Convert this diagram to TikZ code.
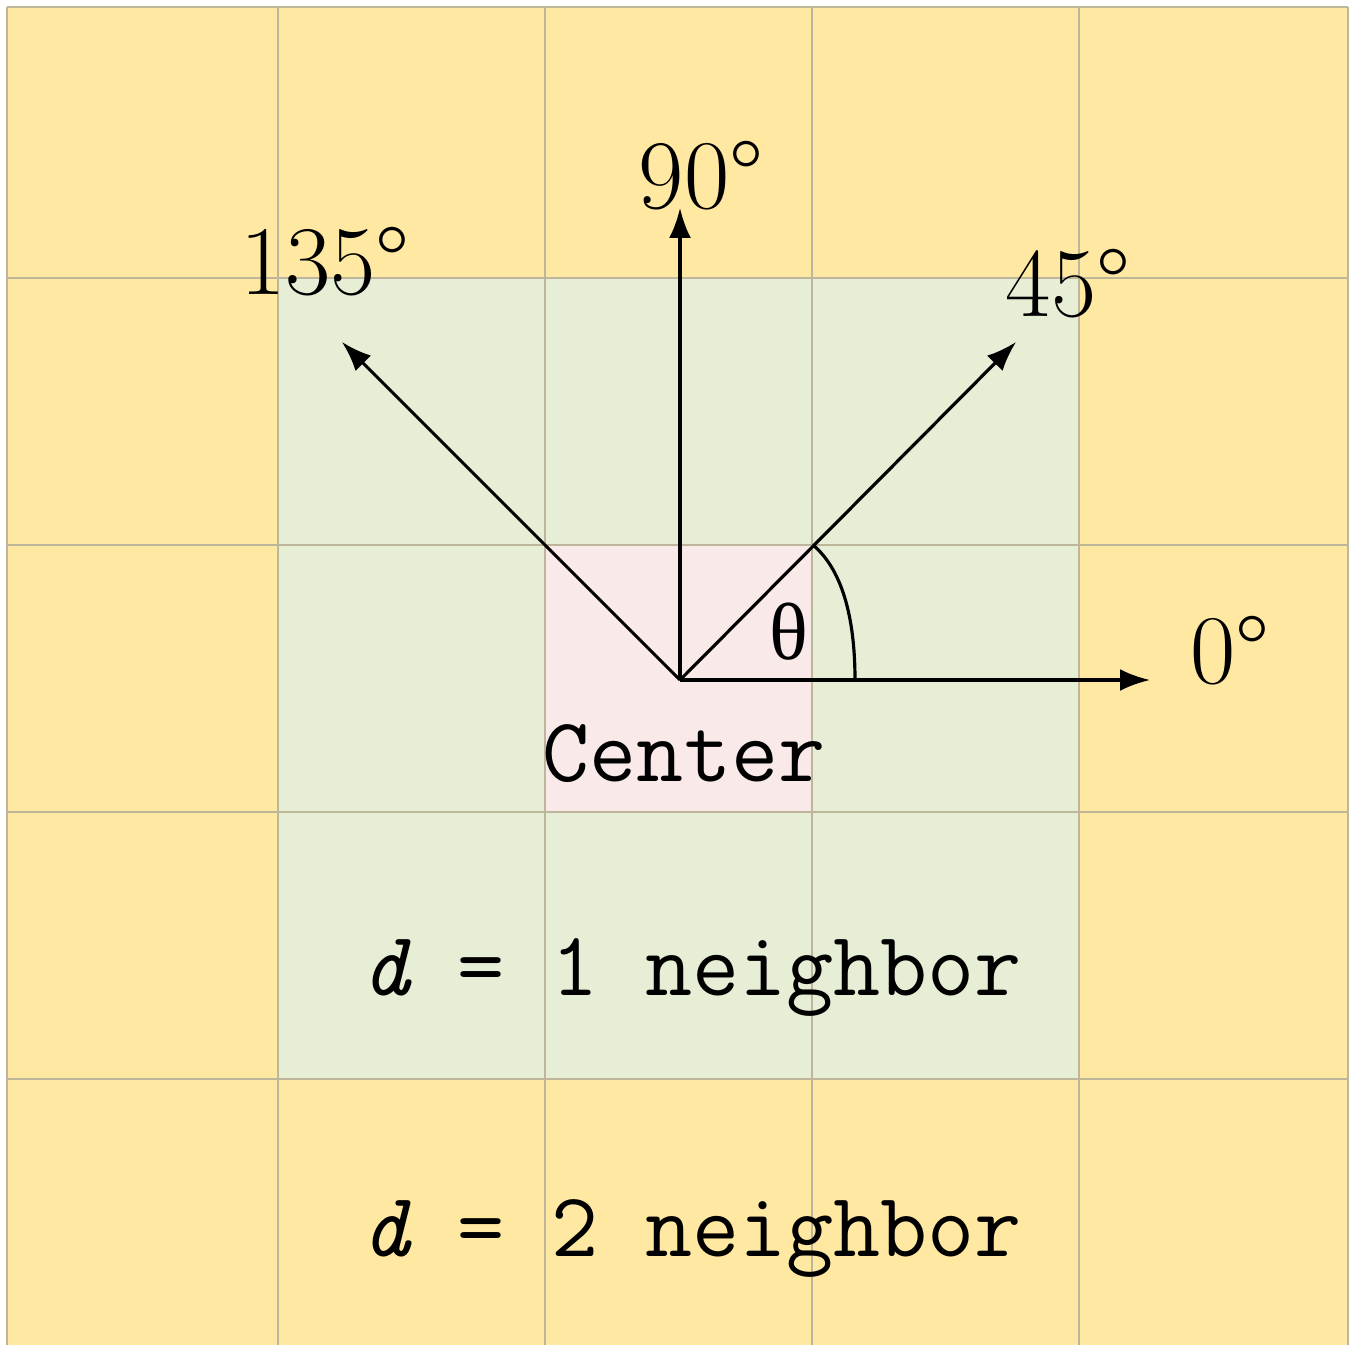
\documentclass[tikz,border=0pt]{standalone}
\usepackage{fontspec}
\newfontfamily\thetafont{Liberation Serif}
\usetikzlibrary{arrows.meta}
\definecolor{cellY}{RGB}{255,232,162}
\definecolor{cellG}{RGB}{230,238,214}
\definecolor{cellP}{RGB}{249,233,232}
\definecolor{gridc}{RGB}{190,182,155}
\tikzset{
  vec/.style={line width=0.9pt, -{Latex[length=8.5pt,width=6.2pt]}},
  deglabel/.style={inner sep=0pt, font=\fontsize{28}{32}\selectfont},
  monolabel/.style={inner sep=0pt, anchor=base, font=\fontsize{26}{30}\selectfont\ttfamily},
}
\begin{document}
\begin{tikzpicture}[x=0.01cm,y=-0.01cm]
\useasboundingbox[fill=white] (0,0) rectangle (1355,1345);
% cells
\fill[cellY] (7,7) rectangle (1348,1345);
\fill[cellG] (278,278) rectangle (1079,1079);
\fill[cellP] (545,545) rectangle (812,812);
% grid
\foreach \v in {7,278,545,812,1079,1348} {
  \draw[gridc, line width=0.5pt] (\v,7) -- (\v,1345);
}
\foreach \v in {7,278,545,812,1079} {
  \draw[gridc, line width=0.5pt] (7,\v) -- (1348,\v);
}
% vectors
\coordinate (c) at (680,680);
\coordinate (e0) at (1150,680);
\coordinate (e90) at (680,208);
\coordinate (e45) at (1016,342);
\coordinate (e135) at (342,342);
\draw[vec] (c) -- (e0);
\draw[vec] (c) -- (e90);
\draw[vec] (c) -- (e45);
\draw[vec] (c) -- (e135);
% angle arc
\coordinate (a1) at (813,545);
\coordinate (a2) at (855,680);
\draw[line width=0.9pt] (a1) .. controls (845,572) and (855,625) .. (a2);
% labels
\node[deglabel] (l90) at (701,176) {90°};
\node[deglabel] (l135) at (325,262) {135°};
\node[deglabel] (l45) at (1068,284) {45°};
\node[deglabel] (l0) at (1230,651) {0°};
\node[inner sep=0pt, font=\fontsize{23}{28}\selectfont\thetafont] (th) at (789,632) {θ};
\node[monolabel] (ctr) at (684,781) {Center};
\node[monolabel] (n1) at (692,995) {{\itshape d} = 1 neighbor};
\node[monolabel] (n2) at (692,1256) {{\itshape d} = 2 neighbor};
\end{tikzpicture}
\end{document}
